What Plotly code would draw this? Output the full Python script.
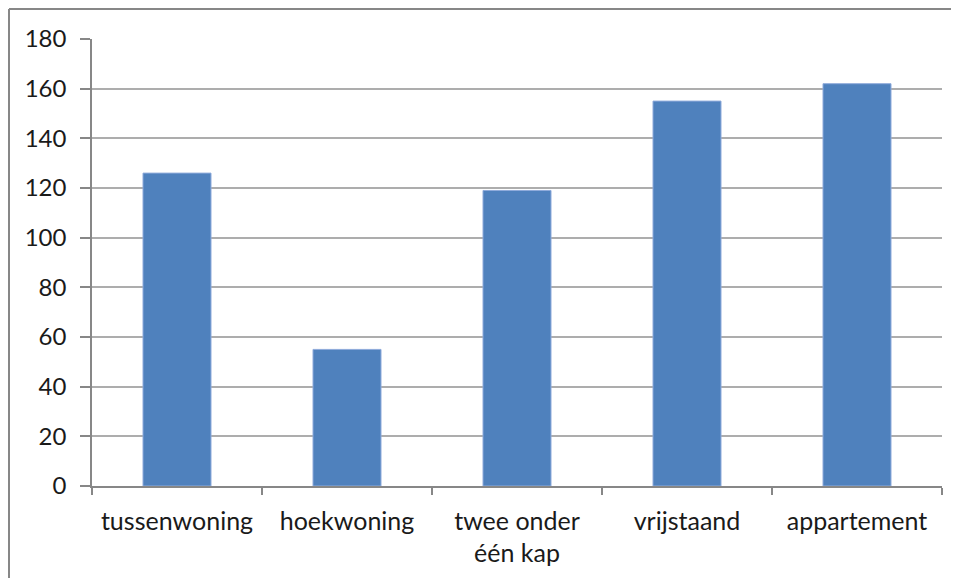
import plotly.graph_objects as go

categories = ["tussenwoning", "hoekwoning", "twee onder<br>één kap", "vrijstaand", "appartement"]
values = [126, 55, 119, 155, 162]
y_ticks = [0, 20, 40, 60, 80, 100, 120, 140, 160, 180]

OFF = 8  # default page body margin
W, H = 959 - OFF, 578 - OFF
L, R, T, B = 92 - OFF, 17, 39 - OFF, 92
pw, ph = W - L - R, H - T - B

fig = go.Figure(go.Bar(
    x=categories, y=values, width=0.4,
    marker=dict(color="#4F81BD", line=dict(color="#8EAADB", width=1)),
))

xfont = dict(family="Lato, Carlito, Liberation Sans, sans-serif", size=25, color="#1a1a1a")
yfont = dict(family="Lato, Carlito, Liberation Sans, sans-serif", size=24, color="#1a1a1a")

fig.update_layout(
    width=W, height=H,
    margin=dict(l=L, r=R, t=T, b=B),
    paper_bgcolor="white", plot_bgcolor="white",
    showlegend=False,
    font=xfont,
    bargap=0.6,
    xaxis=dict(
        type="category", tickson="boundaries", ticks="outside", ticklen=7,
        tickcolor="#878787", tickwidth=1.5,
        showline=True, linecolor="#878787", linewidth=1.5,
        showgrid=False, tickfont=xfont, ticklabelstandoff=12,
    ),
    yaxis=dict(
        range=[0, 180], tickvals=y_ticks, ticks="outside", ticklen=10,
        tickcolor="#878787", tickwidth=1.5,
        showline=True, linecolor="#878787", linewidth=1.5,
        showgrid=True, gridcolor="#ADADAD", gridwidth=1.5,
        zeroline=False, tickfont=yfont, ticklabelstandoff=9,
    ),
    shapes=[
        dict(type="line", xref="paper", yref="paper",
             x0=(9 - OFF - L) / pw, x1=(9 - OFF - L) / pw, y0=1 + (T - 9 + OFF) / ph, y1=-0.3,
             line=dict(color="#878787", width=2)),
        dict(type="line", xref="paper", yref="paper",
             x0=(9 - OFF - L) / pw, x1=1.1, y0=1 + (T - 9 + OFF) / ph, y1=1 + (T - 9 + OFF) / ph,
             line=dict(color="#878787", width=2)),
    ],
)

fig.write_html("out.html")
